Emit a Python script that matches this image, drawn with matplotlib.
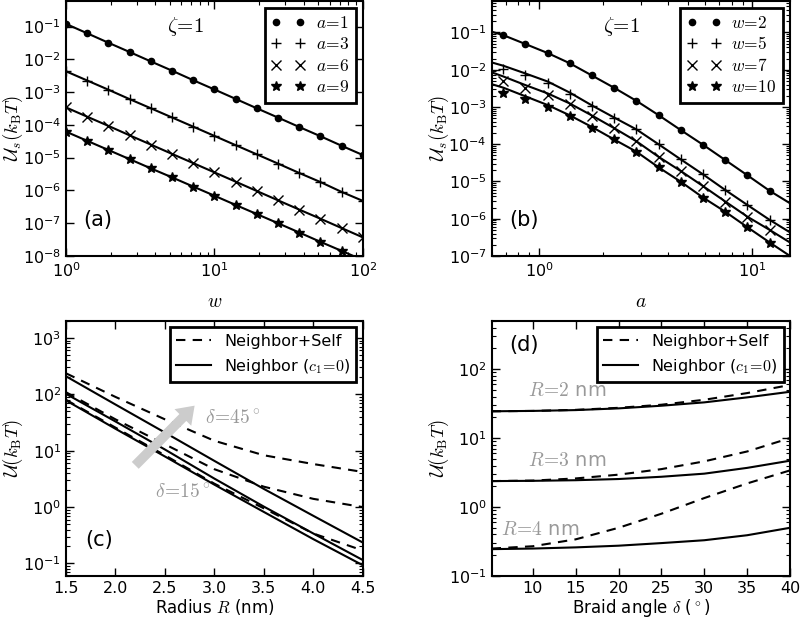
import matplotlib
matplotlib.use("Agg")
import matplotlib.pyplot as plt
from matplotlib.ticker import LogLocator

plt.rcParams['mathtext.fontset'] = 'cm'
plt.rcParams['axes.unicode_minus'] = False
plt.rcParams['font.family'] = ['DejaVu Sans']
plt.rcParams['font.size'] = 12

# (a) U_s vs w
w_pts = [1, 1.39, 1.93, 2.68, 3.73, 5.18, 7.20, 10, 13.9, 19.3, 26.8, 37.3, 51.8, 72.0, 100]
us_a1 = [0.12, 0.062, 0.032, 0.0167, 0.0086, 0.0045, 0.0023, 0.0012, 6.2e-4, 3.2e-4, 1.67e-4, 8.6e-5, 4.5e-5, 2.3e-5, 1.2e-5]
us_a3 = [4.3e-3, 2.25e-3, 1.18e-3, 6.1e-4, 3.2e-4, 1.68e-4, 8.8e-5, 4.6e-5, 2.4e-5, 1.26e-5, 6.6e-6, 3.4e-6, 1.8e-6, 9.0e-7, 4.8e-7]
us_a6 = [3.4e-4, 1.77e-4, 9.3e-5, 4.8e-5, 2.5e-5, 1.3e-5, 6.8e-6, 3.55e-6, 1.85e-6, 9.6e-7, 5.0e-7, 2.6e-7, 1.37e-7, 7.1e-8, 3.7e-8]
us_a9 = [6.2e-5, 3.25e-5, 1.71e-5, 9.0e-6, 4.7e-6, 2.5e-6, 1.31e-6, 6.9e-7, 3.6e-7, 1.9e-7, 1.0e-7, 5.2e-8, 2.7e-8, 1.43e-8, 7.5e-9]
a_labels = [r'$a\!=\!1$', r'$a\!=\!3$', r'$a\!=\!6$', r'$a\!=\!9$']

# (b) U_s vs a
a_pts = [0.68, 0.86, 1.10, 1.39, 1.77, 2.25, 2.86, 3.63, 4.62, 5.87, 7.46, 9.48, 12.05]
us_w2 = [0.0847, 0.0494, 0.0279, 0.0150, 7.0e-3, 3.27e-3, 1.46e-3, 6.05e-4, 2.39e-4, 9.66e-5, 3.76e-5, 1.46e-5, 5.6e-6]
us_w5 = [0.0102, 7.0e-3, 4.3e-3, 2.3e-3, 1.07e-3, 5.2e-4, 2.5e-4, 1.0e-4, 3.9e-5, 1.55e-5, 5.9e-6, 2.33e-6, 9.3e-7]
us_w7 = [4.9e-3, 3.3e-3, 2.07e-3, 1.17e-3, 5.7e-4, 2.65e-4, 1.2e-4, 4.6e-5, 1.9e-5, 7.5e-6, 2.9e-6, 1.13e-6, 5.0e-7]
us_w10 = [2.4e-3, 1.63e-3, 1.0e-3, 5.6e-4, 2.8e-4, 1.34e-4, 6.3e-5, 2.4e-5, 9.8e-6, 3.7e-6, 1.54e-6, 5.9e-7, 2.3e-7]
a_line = [0.6, 0.68, 0.86, 1.10, 1.39, 1.77, 2.25, 2.86, 3.63, 4.62, 5.87, 7.46, 9.48, 12.05, 15]
line_w2 = [0.105, 0.0847, 0.0494, 0.0279, 0.0150, 7.0e-3, 3.27e-3, 1.46e-3, 6.05e-4, 2.39e-4, 9.66e-5, 3.76e-5, 1.46e-5, 5.6e-6, 2.6e-6]
line_w5 = [0.0157, 0.0128, 0.0080, 4.8e-3, 2.45e-3, 1.1e-3, 5.2e-4, 2.5e-4, 1.0e-4, 3.9e-5, 1.55e-5, 5.9e-6, 2.33e-6, 9.3e-7, 4.3e-7]
line_w7 = [8.5e-3, 6.6e-3, 3.9e-3, 2.3e-3, 1.25e-3, 5.9e-4, 2.7e-4, 1.2e-4, 4.6e-5, 1.9e-5, 7.5e-6, 2.9e-6, 1.13e-6, 5.0e-7, 2.3e-7]
line_w10 = [4.1e-3, 3.3e-3, 1.95e-3, 1.12e-3, 6.0e-4, 2.9e-4, 1.34e-4, 6.3e-5, 2.4e-5, 9.8e-6, 3.7e-6, 1.54e-6, 5.9e-7, 2.3e-7, 1.0e-7]
w_labels = [r'$w\!=\!2$', r'$w\!=\!5$', r'$w\!=\!7$', r'$w\!=\!10$']

# (c) U vs R, delta = 15, 30, 45
R = [1.5, 2.0, 2.5, 3.0, 3.5, 4.0, 4.5]
n_d15 = [78, 24.5, 7.9, 2.5, 0.82, 0.27, 0.093]
n_d30 = [102, 33, 10.5, 3.2, 1.02, 0.34, 0.115]
n_d45 = [209, 66, 21, 6.6, 2.1, 0.7, 0.235]
ns_d15 = [80, 25.7, 8.3, 2.6, 0.95, 0.34, 0.17]
ns_d30 = [109, 36, 13, 4.7, 2.3, 1.4, 1.0]
ns_d45 = [236, 90, 36, 15, 8.3, 5.8, 4.2]

# (d) U vs braid angle, R = 2, 3, 4 nm
delta = [5.2, 10, 15, 20, 25, 30, 35, 40]
n_R2 = [24.5, 24.8, 25.5, 27, 29.5, 33, 39, 47]
ns_R2 = [24.5, 24.8, 25.7, 27.5, 30.5, 36, 45, 59]
n_R3 = [2.38, 2.4, 2.45, 2.55, 2.75, 3.05, 3.7, 4.7]
ns_R3 = [2.38, 2.42, 2.6, 2.95, 3.55, 4.6, 6.4, 10]
n_R4 = [0.245, 0.25, 0.26, 0.275, 0.3, 0.33, 0.39, 0.5]
ns_R4 = [0.25, 0.27, 0.34, 0.5, 0.8, 1.35, 2.2, 3.4]

fig = plt.figure(figsize=(8, 6.21), dpi=100)
ax_a = fig.add_axes([0.0825, 0.5878, 0.371, 0.4106])
ax_b = fig.add_axes([0.6146, 0.5878, 0.3729, 0.4106])
ax_c = fig.add_axes([0.0825, 0.0725, 0.371, 0.4106])
ax_d = fig.add_axes([0.6146, 0.0725, 0.3729, 0.4106])

markers = ['o', '+', 'x', '*']
msizes = [4.5, 7.5, 7.5, 7.5]
dash = (4.5, 3.5)


def style(ax):
    for s in ax.spines.values():
        s.set_linewidth(1.5)
    ax.tick_params(which='both', direction='in', top=True, right=True, labelsize=11.5)
    ax.tick_params(which='major', length=6, width=1)
    ax.tick_params(which='minor', length=3, width=0.8)
    ax.yaxis.set_label_coords(-0.138, 0.5)


def boxed_legend(ax, **kw):
    leg = ax.legend(loc='upper right', fancybox=False, framealpha=1, **kw)
    leg.get_frame().set_linewidth(2)
    leg.get_frame().set_edgecolor('black')
    return leg


# panel a
for ys, m, ms, lab in zip([us_a1, us_a3, us_a6, us_a9], markers, msizes, a_labels):
    ax_a.plot(w_pts, ys, '-', color='black', lw=1.5)
    ax_a.plot(w_pts, ys, linestyle='none', marker=m, ms=ms, color='black', mew=1, label=lab)
ax_a.set_xscale('log')
ax_a.set_yscale('log')
ax_a.set_xlim(1, 100)
ax_a.set_ylim(1e-8, 0.6)
ax_a.yaxis.set_major_locator(LogLocator(base=10, numticks=20))
ax_a.set_xlabel(r'$w$', fontsize=14, labelpad=9)
ax_a.set_ylabel(r'$\mathcal{U}_s(k_{\rm B}T)$', fontsize=13.5)
ax_a.text(0.34, 0.9, r'$\zeta\!=\!1$', transform=ax_a.transAxes, fontsize=15, va='center')
ax_a.text(0.057, 0.14, '(a)', transform=ax_a.transAxes, fontsize=15, va='center')
boxed_legend(ax_a, numpoints=2, fontsize=12.5, handlelength=2.0, borderaxespad=0.4,
             labelspacing=0.2, handletextpad=0.6, borderpad=0.35)
style(ax_a)

# panel b
for ys, ls, m, ms, lab in zip([us_w2, us_w5, us_w7, us_w10], [line_w2, line_w5, line_w7, line_w10],
                              markers, msizes, w_labels):
    ax_b.plot(a_line, ls, '-', color='black', lw=1.5)
    ax_b.plot(a_pts, ys, linestyle='none', marker=m, ms=ms, color='black', mew=1, label=lab)
ax_b.set_xscale('log')
ax_b.set_yscale('log')
ax_b.set_xlim(0.6, 15)
ax_b.set_ylim(1e-7, 0.7)
ax_b.yaxis.set_major_locator(LogLocator(base=10, numticks=20))
ax_b.set_xlabel(r'$a$', fontsize=14, labelpad=9)
ax_b.set_ylabel(r'$\mathcal{U}_s(k_{\rm B}T)$', fontsize=13.5)
ax_b.text(0.372, 0.9, r'$\zeta\!=\!1$', transform=ax_b.transAxes, fontsize=15, va='center')
ax_b.text(0.06, 0.14, '(b)', transform=ax_b.transAxes, fontsize=15, va='center')
boxed_legend(ax_b, numpoints=2, fontsize=12.5, handlelength=2.0, borderaxespad=0.4,
             labelspacing=0.2, handletextpad=0.6, borderpad=0.35)
style(ax_b)

# panel c
ax_c.plot(R, ns_d45, color='black', lw=1.5, dashes=dash, label='Neighbor+Self')
ax_c.plot(R, n_d45, color='black', lw=1.5, label=r'Neighbor ($c_1\!=\!0$)')
ax_c.plot(R, ns_d30, color='black', lw=1.5, dashes=dash)
ax_c.plot(R, n_d30, color='black', lw=1.5)
ax_c.plot(R, ns_d15, color='black', lw=1.5, dashes=dash)
ax_c.plot(R, n_d15, color='black', lw=1.5)
ax_c.set_yscale('log')
ax_c.set_xlim(1.5, 4.5)
ax_c.set_ylim(0.06, 2000)
ax_c.set_xticks([1.5, 2.0, 2.5, 3.0, 3.5, 4.0, 4.5])
ax_c.set_xlabel(r'Radius $R$ (nm)', fontsize=12, labelpad=1)
ax_c.set_ylabel(r'$\mathcal{U}(k_{\rm B}T)$', fontsize=13.5)
ax_c.annotate('', xy=(2.8, 63), xytext=(2.2, 5.5),
              arrowprops=dict(facecolor='#cccccc', edgecolor='none', width=7, headwidth=17, headlength=12))
ax_c.text(2.9, 37, r'$\delta\!=\!45^\circ$', color='#999999', fontsize=14, va='center')
ax_c.text(2.4, 1.85, r'$\delta\!=\!15^\circ$', color='#999999', fontsize=14, va='center')
ax_c.text(0.064, 0.14, '(c)', transform=ax_c.transAxes, fontsize=15, va='center')
boxed_legend(ax_c, fontsize=11.5, handlelength=2.2, borderaxespad=0.4)
style(ax_c)

# panel d
ax_d.plot(delta, ns_R2, color='black', lw=1.5, dashes=dash, label='Neighbor+Self')
ax_d.plot(delta, n_R2, color='black', lw=1.5, label=r'Neighbor ($c_1\!=\!0$)')
ax_d.plot(delta, ns_R3, color='black', lw=1.5, dashes=dash)
ax_d.plot(delta, n_R3, color='black', lw=1.5)
ax_d.plot(delta, ns_R4, color='black', lw=1.5, dashes=dash)
ax_d.plot(delta, n_R4, color='black', lw=1.5)
ax_d.set_yscale('log')
ax_d.set_xlim(5.2, 40)
ax_d.set_ylim(0.1, 500)
ax_d.set_xticks([10, 15, 20, 25, 30, 35, 40])
ax_d.set_xlabel(r'Braid angle $\delta$ ($^\circ$)', fontsize=12, labelpad=1)
ax_d.set_ylabel(r'$\mathcal{U}(k_{\rm B}T)$', fontsize=13.5)
ax_d.text(9.4, 49, r'$R\!=\!2$ nm', color='#999999', fontsize=14, va='center')
ax_d.text(9.4, 4.7, r'$R\!=\!3$ nm', color='#999999', fontsize=14, va='center')
ax_d.text(6.3, 0.47, r'$R\!=\!4$ nm', color='#999999', fontsize=14, va='center')
ax_d.text(0.06, 0.906, '(d)', transform=ax_d.transAxes, fontsize=15, va='center')
boxed_legend(ax_d, fontsize=11.5, handlelength=2.2, borderaxespad=0.4)
style(ax_d)

fig.savefig('out.png', dpi=100)
